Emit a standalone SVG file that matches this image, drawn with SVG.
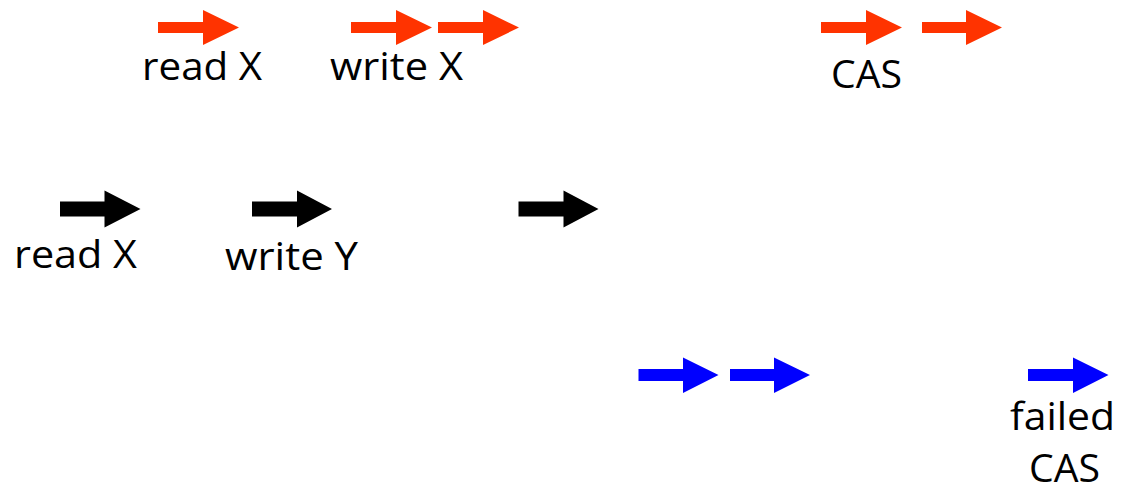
<svg xmlns="http://www.w3.org/2000/svg" width="1124" height="493" viewBox="0 0 1124 493">
  <style>
    .red { fill: #ff3300; }
    .black { fill: #000000; }
    .blue { fill: #0000ff; }
    .lbl { font-family: "Open Sans", "Liberation Sans", sans-serif; font-size: 39px; fill: #000000; }
  </style>
  <rect width="1124" height="493" fill="#ffffff"/>

  <!-- thread 1 (red) -->
  <g id="t1-read">
    <polygon class="red" points="158,22 203,22 203,10 239,27.5 203,45 203,33 158,33"/>
    <text class="lbl" x="142" y="80" textLength="120" lengthAdjust="spacingAndGlyphs">read X</text>
  </g>
  <g id="t1-write">
    <polygon class="red" points="351,22 396,22 396,10 432,27.5 396,45 396,33 351,33"/>
    <polygon class="red" points="438,22 483,22 483,10 519,27.5 483,45 483,33 438,33"/>
    <text class="lbl" x="330" y="80" textLength="133" lengthAdjust="spacingAndGlyphs">write X</text>
  </g>
  <g id="t1-cas">
    <polygon class="red" points="821,22 866,22 866,10 902,27.5 866,45 866,33 821,33"/>
    <polygon class="red" points="922,22 966,22 966,10 1002,27.5 966,45 966,33 922,33"/>
    <text class="lbl" x="831" y="88" textLength="71" lengthAdjust="spacingAndGlyphs">CAS</text>
  </g>

  <!-- thread 2 (black) -->
  <g id="t2-read">
    <polygon class="black" points="60,201.5 104.5,201.5 104.5,190.5 140.5,209 104.5,227.5 104.5,216.5 60,216.5"/>
    <text class="lbl" x="14" y="268" textLength="123" lengthAdjust="spacingAndGlyphs">read X</text>
  </g>
  <g id="t2-write">
    <polygon class="black" points="252,201.5 297,201.5 297,190.5 332,209 297,227.5 297,216.5 252,216.5"/>
    <text class="lbl" x="225" y="270" textLength="133" lengthAdjust="spacingAndGlyphs">write Y</text>
  </g>
  <g id="t2-step">
    <polygon class="black" points="518.5,201.5 563.5,201.5 563.5,190.5 598.5,209 563.5,227.5 563.5,216.5 518.5,216.5"/>
  </g>

  <!-- thread 3 (blue) -->
  <g id="t3-steps">
    <polygon class="blue" points="638.5,369 683,369 683,357.5 718.5,375 683,393 683,381 638.5,381"/>
    <polygon class="blue" points="730,369 774,369 774,357.5 810,375 774,393 774,381 730,381"/>
  </g>
  <g id="t3-failed-cas">
    <polygon class="blue" points="1028,369 1073,369 1073,357.5 1108.5,375 1073,393 1073,381 1028,381"/>
    <text class="lbl" x="1010" y="430" textLength="105" lengthAdjust="spacingAndGlyphs">failed</text>
    <text class="lbl" x="1029" y="482" textLength="71" lengthAdjust="spacingAndGlyphs">CAS</text>
  </g>
</svg>
